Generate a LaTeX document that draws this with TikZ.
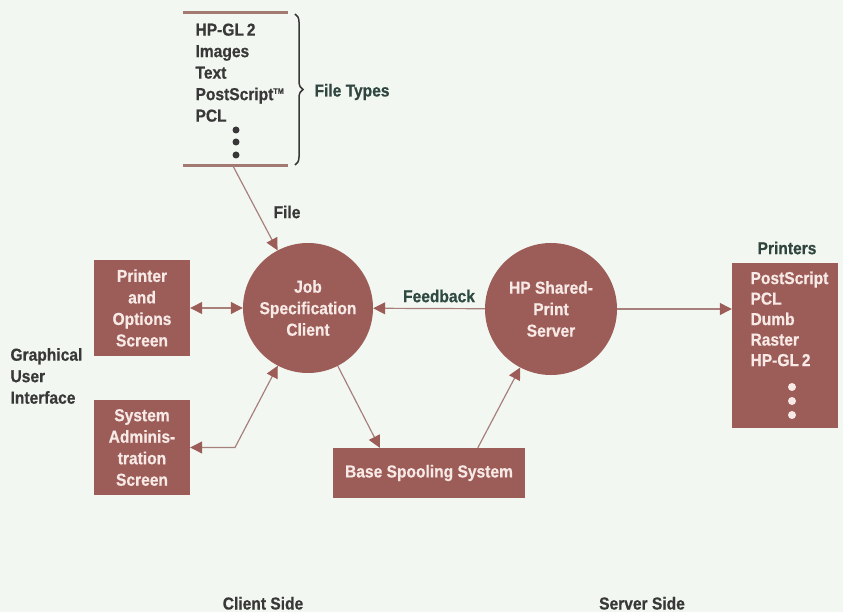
\documentclass[tikz,border=0pt]{standalone}
\usepackage{fontspec}
\setmainfont{Liberation Sans}[FakeStretch=0.9,BoldFeatures={FakeBold=0.6}]
\usetikzlibrary{arrows.meta,decorations.pathreplacing,calc}
\definecolor{bg}{HTML}{F3F7F1}
\definecolor{brick}{HTML}{9C5C58}
\definecolor{boxtext}{HTML}{F7E9E5}
\definecolor{lbl}{HTML}{383838}
\definecolor{fb}{HTML}{2E4A42}
\definecolor{linec}{HTML}{A8807B}
\definecolor{rule}{HTML}{A27A72}
\begin{document}
\begin{tikzpicture}[x=1pt,y=-1pt,
  txt/.style={font=\fontsize{17.3}{21.5}\selectfont\bfseries},
  box/.style={txt,fill=brick,draw=none,text=boxtext,align=center,inner sep=0pt},
  circ/.style={txt,circle,fill=brick,draw=none,text=boxtext,align=center,inner sep=0pt},
  lab/.style={txt,text=lbl},
  conn/.style={draw=linec,line width=1.2pt},
  tip/.style={-{Triangle[length=12pt,width=12pt,fill=brick,color=brick]}},
  tips/.style={{Triangle[length=12pt,width=12pt,fill=brick,color=brick]}-{Triangle[length=12pt,width=12pt,fill=brick,color=brick]}}
]
\fill[bg] (0,0) rectangle (843,612);
\useasboundingbox (0,0) rectangle (843,612);

% file type list
\coordinate (ftl) at (183,13);
\coordinate (ftr) at (288,13);
\coordinate (fbl) at (183,166);
\coordinate (fbr) at (288,166);
\draw[rule,line width=3pt] (ftl) -- (ftr);
\draw[rule,line width=3pt] (fbl) -- (fbr);
\node[lab,align=left,anchor=north west] (flist) at (192,20) {HP-GL\,2\\Images\\Text\\PostScript\textsuperscript{\fontsize{8}{8}\selectfont TM}\\PCL};
\foreach \yy [count=\i] in {130,142,155} \fill[lbl] (236,\yy) circle (3.5pt);
\coordinate (brt) at (295,14);
\coordinate (brb) at (295,165);
\draw[lbl,line width=1.5pt,decorate,decoration={brace,amplitude=8pt}] (brt) -- (brb);
\node[lab,text=fb!80!lbl] (ftypes) at (352,92) {File Types};
\coordinate (filebot) at (233,166);

% main nodes
\node[box,minimum width=96pt,minimum height=96pt] (pos) at (142,308) {Printer\\and\\Options\\Screen};
\node[box,minimum width=96pt,minimum height=95pt] (sys) at (142,447.5) {System\\Adminis-\\tration\\Screen};
\node[circ,minimum size=130pt] (job) at (308,308) {Job\\Specification\\Client};
\node[circ,minimum size=132pt] (srv) at (551,309) {HP Shared-\\Print\\Server};
\node[box,minimum width=192pt,minimum height=50pt] (spool) at (429,473) {Base Spooling System};
\node[box,minimum width=106pt,minimum height=165pt] (prn) at (785,345.5) {};
\node[lab,text=boxtext,align=left,anchor=north west,font=\fontsize{17.3}{20.5}\selectfont\bfseries] (plist) at (747,268) {PostScript\\PCL\\Dumb\\Raster\\HP-GL\,2};
\foreach \yy in {387,401,415} \fill[boxtext] (792,\yy) circle (4pt);

% labels
\node[lab] (filel) at (287,212) {File};
\node[lab,text=fb] (fbl2) at (439,296) {Feedback};
\node[lab,text=fb!70!lbl] (prnl) at (787,248) {Printers};
\node[lab,align=left,anchor=west] (gui) at (7,376) {Graphical\\User\\Interface};
\node[lab,inner sep=0pt,anchor=base] (cside) at (263,609.5) {Client Side};
\node[lab,inner sep=0pt,anchor=base] (sside) at (642,609.5) {Server Side};

% connectors
\draw[conn,tip] (filebot) -- (job);
\draw[conn,tips] (pos) -- (job);
\coordinate (bend) at (235,447.5);
\draw[conn,tips] (sys.east) -- (bend) -- (job);
\draw[conn,tip] (job) -- ($(spool.north west)+(47,0)$);
\draw[conn,tip] ($(spool.north west)+(145,0)$) -- (srv);
\draw[conn,tip] (srv) -- (job);
\draw[conn,tip] (srv.east) -- (srv.east -| prn.west);
\end{tikzpicture}
\end{document}
